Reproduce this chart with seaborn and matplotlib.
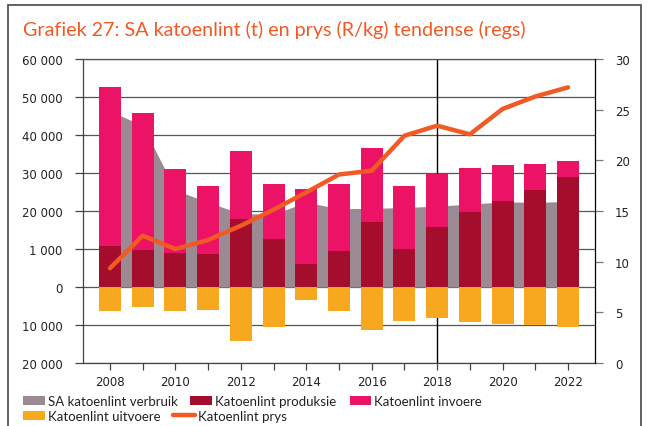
import numpy as np
import pandas as pd
import seaborn as sns
import matplotlib
matplotlib.use("Agg")
import matplotlib.pyplot as plt
from matplotlib.patches import Rectangle, Patch
from matplotlib.lines import Line2D

# ---- data ----
years = list(range(2008, 2023))
verbruik = [46300, 42500, 25500, 22300, 19300, 19200, 22300, 20600, 20700, 20900,
            21300, 21800, 22400, 22300, 22500]
produksie = [10900, 9800, 9000, 8700, 17900, 12600, 6000, 9500, 17200, 10100,
             15700, 19800, 22700, 25600, 29000]
invoere = [41800, 35900, 22000, 17800, 17800, 14600, 19700, 17600, 19300, 16400,
           14000, 11500, 9300, 6800, 4200]
uitvoere = [6400, 5300, 6400, 6000, 14100, 10400, 3300, 6400, 11200, 8900,
            8200, 9300, 9700, 10100, 10400]
prys = [9.35, 12.56, 11.25, 12.14, 13.55, 15.13, 16.84, 18.6, 18.98, 22.43,
        23.42, 22.57, 25.07, 26.3, 27.2]
left_ticks = [-20000, -10000, 0, 10000, 20000, 30000, 40000, 50000, 60000]
left_labels = ["20 000", "10 000", "0", "1 000", "20 000", "30 000", "40 000", "50 000", "60 000"]
right_ticks = [0, 5, 10, 15, 20, 25, 30]
title = "Grafiek 27: SA katoenlint (t) en prys (R/kg) tendense (regs)"
names = ["SA katoenlint verbruik", "Katoenlint produksie", "Katoenlint invoere",
         "Katoenlint uitvoere", "Katoenlint prys"]

C_GRAY = "#9b8a94"
C_RED = "#a50d2d"
C_PINK = "#ec1265"
C_ORANGE = "#f8a81e"
C_LINE = "#f15a24"

df = pd.DataFrame({"year": years, "verbruik": verbruik, "produksie": produksie,
                   "invoere": invoere, "uitvoere": uitvoere, "prys": prys})
df["totaal"] = df["produksie"] + df["invoere"]
df["uit_neg"] = -df["uitvoere"]

sns.set_theme(style="white")
plt.rcParams["font.family"] = ["DejaVu Sans"]

fig = plt.figure(figsize=(6.5, 4.27), dpi=100)
ax = fig.add_axes([83 / 650, 1 - 364 / 427, (595 - 83) / 650, (364 - 60) / 427])

# consumption area
ax.fill_between(df["year"], df["verbruik"], 0, color=C_GRAY, lw=0, zorder=1.5)

bar_kw = dict(native_scale=True, width=0.67, errorbar=None, saturation=1,
              linewidth=0, ax=ax, zorder=2)
sns.barplot(data=df, x="year", y="totaal", color=C_PINK, **bar_kw)
sns.barplot(data=df, x="year", y="produksie", color=C_RED, **bar_kw)
sns.barplot(data=df, x="year", y="uit_neg", color=C_ORANGE, **bar_kw)

ax.axvline(2018, color="black", lw=1, zorder=0.8)

ax.set_xlim(2007.175, 2022.825)
ax.set_ylim(-20000, 60000)
ax.set_yticks(left_ticks)
ax.set_yticklabels(left_labels)
ax.set_xticks(years)
ax.set_xticklabels([str(y) if y % 2 == 0 else "" for y in years])
ax.set_xlabel("")
ax.set_ylabel("")
ax.set_axisbelow(True)
ax.yaxis.grid(True, color="#555555", lw=0.9, zorder=0.5)
ax.xaxis.grid(False)
for s in ["left", "bottom", "top"]:
    ax.spines[s].set_visible(True)
    ax.spines[s].set_color("#444444")
    ax.spines[s].set_linewidth(0.9)
ax.spines["top"].set_color("#555555")
ax.spines["right"].set_visible(False)
ax.tick_params(axis="y", which="major", direction="out", length=5.5, width=0.9,
               color="#444444", pad=9, labelsize=8.5, labelcolor="#222222", left=True)
ax.tick_params(axis="x", which="major", direction="out", length=5, width=0.9,
               color="#444444", pad=3.5, labelsize=8.5, labelcolor="#222222", bottom=True)

# price on right axis
ax2 = ax.twinx()
sns.lineplot(x=df["year"], y=df["prys"], ax=ax2, color=C_LINE, lw=3.2,
             solid_capstyle="round", zorder=3)
ax2.set_ylim(0, 30)
ax2.set_yticks(right_ticks)
ax2.set_xlim(2007.175, 2022.825)
ax2.set_ylabel("")
ax2.set_xlabel("")
ax2.grid(False)
for s in ["left", "bottom", "top"]:
    ax2.spines[s].set_visible(False)
ax2.spines["right"].set_visible(True)
ax2.spines["right"].set_color("black")
ax2.spines["right"].set_linewidth(0.9)
ax2.tick_params(axis="y", direction="out", length=6, width=0.9, color="#777777",
                pad=8.5, labelsize=8.5, labelcolor="#222222", right=True)

# title
fig.text(23 / 650, 1 - 36 / 427, title, fontsize=14.2, color=C_LINE,
         family=["Lato", "DejaVu Sans"], va="baseline", ha="left")

# legends
leg_kw = dict(frameon=False, loc="center left", borderaxespad=0, borderpad=0,
              handlelength=1.66, handleheight=0.76, handletextpad=0.23,
              columnspacing=0.98, prop={"family": ["Lato", "DejaVu Sans"], "size": 9.5})
h1 = [Patch(color=C_GRAY, lw=0), Patch(color=C_RED, lw=0), Patch(color=C_PINK, lw=0)]
l1 = fig.legend(h1, names[:3], ncol=3, bbox_to_anchor=(22.7 / 650, 1 - 402 / 427), **leg_kw)
h2 = [Patch(color=C_ORANGE, lw=0),
      Line2D([0], [0], color=C_LINE, lw=3.2, solid_capstyle="round")]
l2 = fig.legend(h2, names[3:], ncol=2, bbox_to_anchor=(22.7 / 650, 1 - 417 / 427), **leg_kw)
for lg in (l1, l2):
    for t in lg.get_texts():
        t.set_color("#222222")

# outer frame
fig.patches.append(Rectangle((7.5 / 650, -0.05), (641 - 7.5) / 650, 1.05 - 5.5 / 427,
                             transform=fig.transFigure, fill=False,
                             edgecolor="#555555", lw=1.3))

fig.savefig("out.png", dpi=100)
